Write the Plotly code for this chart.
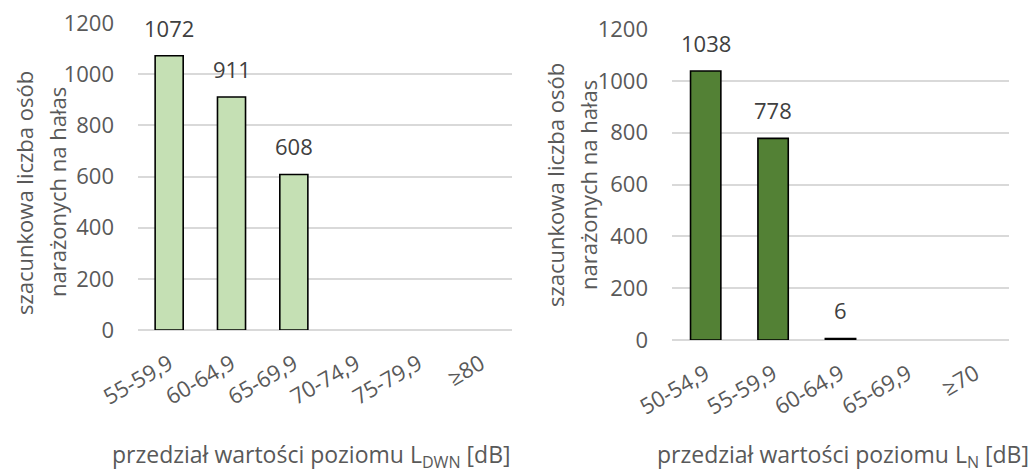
import plotly.graph_objects as go

# Data: estimated number of people exposed to noise, by level band
left_categories = ["55-59,9", "60-64,9", "65-69,9", "70-74,9", "75-79,9", "≥80"]
left_values = [1072, 911, 608, None, None, None]

right_categories = ["50-54,9", "55-59,9", "60-64,9", "65-69,9", "≥70"]
right_values = [1038, 778, 6, None, None]

y_ticks = [0, 200, 400, 600, 800, 1000, 1200]
y_title_lines = ["szacunkowa liczba osób", "narażonych na hałas"]
left_x_title = "przedział wartości poziomu L<sub>DWN</sub> [dB]"
right_x_title = "przedział wartości poziomu L<sub>N</sub> [dB]"

FONT = "Open Sans"
TICK_COLOR = "#595959"
LABEL_COLOR = "#404040"
GRID = "#D9D9D9"
FS = 22

W, H = 1032, 472

fig = go.Figure()

fig.add_trace(go.Bar(
    x=left_categories, y=left_values, xaxis="x", yaxis="y",
    marker=dict(color="#C5E0B4", line=dict(color="#000000", width=1.6)),
    width=0.45, showlegend=False, hoverinfo="x+y",
))
fig.add_trace(go.Bar(
    x=right_categories, y=right_values, xaxis="x2", yaxis="y2",
    marker=dict(color="#538135", line=dict(color="#000000", width=1.6)),
    width=0.45, showlegend=False, hoverinfo="x+y",
))

annotations = []
# Value labels above each bar that has data
for cats, vals, xr, yr in [(left_categories, left_values, "x", "y"),
                           (right_categories, right_values, "x2", "y2")]:
    for c, v in zip(cats, vals):
        if v is None:
            continue
        annotations.append(dict(
            x=c, y=v, xref=xr, yref=yr, text=str(v), showarrow=False,
            yanchor="bottom", yshift=11,
            font=dict(family=FONT, size=FS, color=LABEL_COLOR),
        ))

# Two-line rotated y-axis titles
y_title_positions = [
    (24, 193, y_title_lines[0]),
    (57, 192, y_title_lines[1]),
    (555, 185, y_title_lines[0]),
    (588, 185, y_title_lines[1]),
]
for px, py, txt in y_title_positions:
    annotations.append(dict(
        x=px / W, y=1 - py / H, xref="paper", yref="paper", text=txt,
        showarrow=False, textangle=-90, xanchor="center", yanchor="middle",
        font=dict(family=FONT, size=FS, color=TICK_COLOR),
    ))

# X-axis titles
for px, txt in [(311, left_x_title), (843, right_x_title)]:
    annotations.append(dict(
        x=px / W, y=1 - 455 / H, xref="paper", yref="paper", text=txt,
        showarrow=False, xanchor="center", yanchor="middle",
        font=dict(family=FONT, size=FS + 1, color=TICK_COLOR),
    ))

xaxis_common = dict(
    type="category", tickangle=-30, showgrid=False, showline=False,
    ticks="", automargin=False,
    tickfont=dict(family=FONT, size=FS, color=TICK_COLOR),
    ticklabelstandoff=16,
)
yaxis_common = dict(
    range=[0, 1200], tickvals=y_ticks, showgrid=True, gridcolor=GRID,
    gridwidth=2, zeroline=True, zerolinecolor=GRID, zerolinewidth=2,
    showline=False, ticks="", ticklabelstandoff=23, automargin=False,
    tickfont=dict(family=FONT, size=FS, color=TICK_COLOR),
)

fig.update_layout(
    width=W, height=H,
    margin=dict(l=0, r=0, t=0, b=0),
    paper_bgcolor="white", plot_bgcolor="white",
    xaxis=dict(domain=[138 / W, 512 / W], anchor="y", **xaxis_common),
    yaxis=dict(domain=[1 - 330 / H, 1 - 23 / H], anchor="x", **yaxis_common),
    xaxis2=dict(domain=[672 / W, 1009 / W], anchor="y2", **xaxis_common),
    yaxis2=dict(domain=[1 - 340 / H, 1 - 29 / H], anchor="x2", **yaxis_common),
    annotations=annotations,
)

fig.write_html("out.html")
